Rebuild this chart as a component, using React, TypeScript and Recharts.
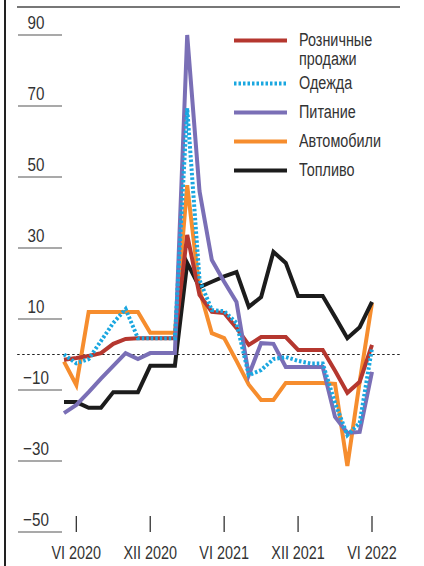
import React from "react";
import { LineChart, Line, XAxis, YAxis, ReferenceLine, Legend } from "recharts";

// months from V 2020 to VI 2022, index 0 = VI 2020
const months = [
  "2020-05", "2020-06", "2020-07", "2020-08", "2020-09", "2020-10", "2020-11",
  "2020-12", "2021-01", "2021-02", "2021-03", "2021-04", "2021-05", "2021-06",
  "2021-07", "2021-08", "2021-09", "2021-10", "2021-11", "2021-12", "2022-01",
  "2022-02", "2022-03", "2022-04", "2022-05", "2022-06",
];

const retail = [
  -1.5, -1, -0.4, 0.4, 3, 4.4, 4.6, 4.6, 4.6, 4.6, 33.7, 16.8, 12, 11.7, 7.5,
  2.7, 4.9, 4.9, 4.9, 1.3, 1.3, 1.3, -4.6, -10.8, -7.7, 2.7,
];
const clothing = [
  0, -2.5, -1.3, 3.8, 8.9, 12.8, 4.6, 4.6, 4.6, 4.6, 69.4, 21, 12.5, 12.2, 8.9,
  -5.8, -4.4, -1.3, -0.7, -1.8, -2.5, -2.5, -13.7, -22.7, -19.3, 1.8,
];
const food = [
  -16.5, -14.2, -10.6, -6.8, -3.2, 0.4, -1.3, 0.4, 0.4, 0.4, 90, 46, 26.6, 20.5,
  14.8, -5.8, 3.2, 3, -3.5, -3.5, -3.5, -3.5, -17.6, -22.1, -21.8, -4.9,
];
const cars = [
  -2, -8.6, 12, 12, 12, 12, 12, 6.1, 6.1, 6.1, 47.7, 18.2, 6, 4.6, -1.8, -8.5,
  -12.8, -12.8, -8, -8, -8, -8, -8.3, -31.4, -7.7, 14.5,
];
const fuel = [
  -13.4, -13.4, -15, -15, -10.6, -10.6, -10.6, -3.2, -3.2, -3.2, 25.8, 19, 20.5,
  22, 23.2, 13.4, 16.2, 28.9, 25.8, 16.5, 16.5, 16.5, 10.6, 4.6, 7.7, 14.8,
];

const xTicks = [0, 6, 12, 18, 24];
const xTickLabels = ["VI 2020", "XII 2020", "VI 2021", "XII 2021", "VI 2022"];
const yTicks = [-50, -30, -10, 10, 30, 50, 70, 90];

const series = [
  { key: "cars", name: "Автомобили", color: "#f68d2e", dash: undefined },
  { key: "fuel", name: "Топливо", color: "#1c1c1c", dash: undefined },
  { key: "retail", name: "Розничные продажи", color: "#b5372f", dash: undefined },
  { key: "food", name: "Питание", color: "#7a6fb6", dash: undefined },
  { key: "clothing", name: "Одежда", color: "#1aa7e0", dash: "2.5 2" },
];
const legendOrder = ["retail", "clothing", "food", "cars", "fuel"];

const data = months.map((month, i) => ({
  month,
  m: i - 1,
  retail: retail[i],
  clothing: clothing[i],
  food: food[i],
  cars: cars[i],
  fuel: fuel[i],
}));

// narrow look: Liberation Sans squeezed horizontally
const FONT = "'Liberation Sans', Arial, sans-serif";
const SQUEEZE = 0.8;

const fmt = (v: number) => (v < 0 ? `\u2212${Math.abs(v)}` : `${v}`);

const YTick = ({ x, y, payload }: any) => (
  <g>
    <line x1={x - 46} x2={x - 2} y1={y} y2={y} stroke="#555" strokeWidth={1.2} />
    <g transform={`translate(${x - 28},${y - 6}) scale(${SQUEEZE},1)`}>
      <text x={0} y={0} textAnchor="middle" fontSize={19} fill="#333" fontFamily={FONT}>
        {fmt(payload.value)}
      </text>
    </g>
  </g>
);

const XTick = ({ x, y, payload }: any) => (
  <g>
    <line x1={x} x2={x} y1={y - 16} y2={y} stroke="#333" strokeWidth={1.3} />
    <g transform={`translate(${x},${y + 27}) scale(${SQUEEZE},1)`}>
      <text x={0} y={0} textAnchor="middle" fontSize={18} fill="#333" fontFamily={FONT}>
        {xTickLabels[xTicks.indexOf(payload.value)]}
      </text>
    </g>
  </g>
);

const LegendBox = () => (
  <div style={{ fontFamily: FONT, fontSize: 18, color: "#333", lineHeight: "19px" }}>
    {legendOrder.map((k, i) => {
      const s = series.find((d) => d.key === k)!;
      const words = s.name.split(" ");
      return (
        <div key={k} style={{ display: "flex", alignItems: "flex-start", height: i === 0 ? 43 : 29 }}>
          <svg width={53} height={19} style={{ marginRight: 12, flex: "none" }}>
            <line x1={0} x2={53} y1={9.5} y2={9.5} stroke={s.color} strokeWidth={4} strokeDasharray={s.dash} />
          </svg>
          <div style={{ transform: `scaleX(${SQUEEZE})`, transformOrigin: "left center", whiteSpace: "nowrap" }}>
            {words.map((w) => (
              <div key={w}>{w}</div>
            ))}
          </div>
        </div>
      );
    })}
  </div>
);

export default function App() {
  return (
    <div style={{ position: "absolute", left: 0, top: 0, width: 424, height: 566, background: "#fff" }}>
      <div style={{ position: "absolute", left: 4, top: 0, width: 1.5, height: 566, background: "#222" }} />
      <div style={{ position: "absolute", left: 17, top: 6, width: 383, height: 1.5, background: "#777" }} />
      <LineChart width={424} height={566} data={data} margin={{ top: 35, right: 52, bottom: 0, left: 0 }}>
        <XAxis
          dataKey="m"
          type="number"
          domain={[-1, 24]}
          ticks={xTicks}
          height={34}
          axisLine={false}
          tickLine={false}
          tickSize={0}
          tickMargin={0}
          tick={<XTick />}
          interval={0}
        />
        <YAxis
          type="number"
          domain={[-50, 90]}
          ticks={yTicks}
          width={64}
          axisLine={false}
          tickLine={false}
          tickSize={0}
          tickMargin={0}
          tick={<YTick />}
          interval={0}
        />
        <ReferenceLine
          segment={[{ x: -4.8, y: 0 }, { x: 26.3, y: 0 }]}
          ifOverflow="visible"
          stroke="#222"
          strokeWidth={1}
          strokeDasharray="2.5 2.5"
        />
        {series.map((s) => (
          <Line
            key={s.key}
            type="linear"
            dataKey={s.key}
            name={s.name}
            stroke={s.color}
            strokeWidth={4}
            strokeDasharray={s.dash}
            dot={false}
            activeDot={false}
            isAnimationActive={false}
          />
        ))}
        <Legend
          layout="horizontal"
          verticalAlign="middle"
          align="center"
          content={<LegendBox />}
          wrapperStyle={{ top: 31, left: 234, width: 180, height: 180 }}
        />
      </LineChart>
    </div>
  );
}
